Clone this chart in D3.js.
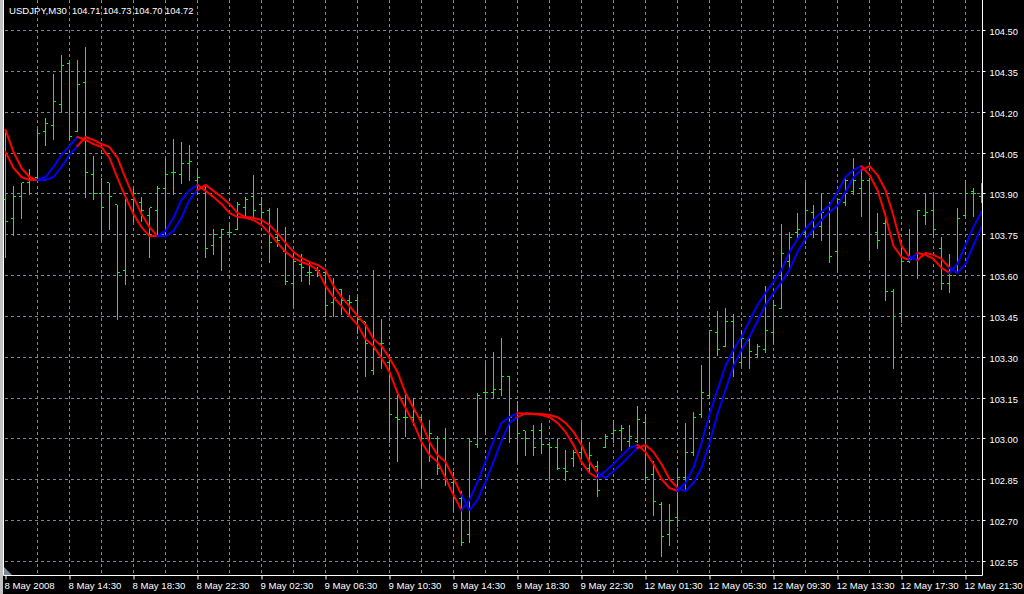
<!DOCTYPE html>
<html><head><meta charset="utf-8">
<script src="https://cdn.jsdelivr.net/npm/d3@7"></script>
<style>html,body{margin:0;padding:0;background:#000;overflow:hidden}</style>
</head><body>
<svg id="chart" width="1024" height="594"></svg>
<script>
// ---------- data ----------
const symbolTitle = "USDJPY,M30";
const quoteValues = ["104.71", "104.73", "104.70", "104.72"];
const timeLabels = ["8 May 2008","8 May 14:30","8 May 18:30","8 May 22:30","9 May 02:30","9 May 06:30",
  "9 May 10:30","9 May 14:30","9 May 18:30","9 May 22:30","12 May 01:30","12 May 05:30",
  "12 May 09:30","12 May 13:30","12 May 17:30","12 May 21:30"];
const priceTicks = [104.50,104.35,104.20,104.05,103.90,103.75,103.60,103.45,103.30,103.15,103.00,102.85,102.70,102.55];

const openP = [103.88,103.81,103.89,103.94,103.96,104.13,104.15,104.23,104.38,104.13,
 104.31,103.97,103.90,103.94,103.86,103.62,103.88,103.87,103.82,103.84,
 103.92,103.98,103.97,104.01,103.95,103.93,103.71,103.74,103.76,103.77,
 103.85,103.89,103.86,103.84,103.74,103.69,103.57,103.64,103.61,103.62,
 103.61,103.50,103.55,103.51,103.51,103.43,103.25,103.35,103.28,103.08,
 103.08,103.08,103.08,103.00,103.00,103.00,102.84,102.78,102.65,102.98,
 103.17,103.17,103.18,103.23,103.08,103.03,103.03,103.03,102.98,102.97,
 102.89,102.93,102.95,102.89,102.90,102.97,103.02,103.03,102.99,102.99,
 103.06,102.87,102.76,102.65,102.71,102.86,102.95,103.09,103.16,103.39,
 103.34,103.43,103.28,103.36,103.31,103.33,103.39,103.48,103.65,103.76,
 103.76,103.83,103.78,103.85,103.69,103.87,103.91,103.92,103.95,103.76,
 103.79,103.54,103.46,103.65,103.66,103.82,103.84,103.70,103.57,103.61,
 103.82,103.91,103.89];
const highP = [104.13,103.93,103.94,103.99,104.14,104.18,104.34,104.41,104.38,104.39,
 104.44,104.04,103.96,103.94,103.86,103.88,103.92,103.89,103.85,103.93,
 104.03,104.10,104.09,104.08,103.99,103.93,103.77,103.77,103.79,103.87,
 103.89,103.97,103.89,103.85,103.85,103.78,103.68,103.68,103.65,103.63,
 103.62,103.59,103.55,103.53,103.52,103.43,103.62,103.44,103.29,103.16,
 103.16,103.15,103.08,103.07,103.01,103.04,102.88,102.81,103.00,103.17,
 103.28,103.32,103.37,103.23,103.14,103.03,103.05,103.06,102.99,103.00,
 102.96,102.96,103.06,102.99,102.92,103.02,103.07,103.05,103.05,103.12,
 103.09,102.92,102.77,102.76,102.89,103.06,103.10,103.27,103.40,103.47,
 103.48,103.46,103.40,103.37,103.35,103.56,103.51,103.79,103.76,103.83,
 103.94,103.86,103.90,103.87,103.88,103.96,104.03,103.99,103.96,103.83,
 103.83,103.55,103.70,103.77,103.84,103.90,103.90,103.74,103.68,103.85,
 103.95,103.92,103.94];
const lowP = [103.67,103.75,103.81,103.90,103.95,104.08,104.10,104.20,104.10,104.13,
 103.89,103.88,103.73,103.77,103.44,103.57,103.80,103.80,103.67,103.75,
 103.75,103.90,103.94,103.95,103.90,103.67,103.68,103.62,103.74,103.77,
 103.81,103.81,103.80,103.65,103.71,103.57,103.49,103.58,103.57,103.60,
 103.45,103.45,103.46,103.46,103.39,103.23,103.24,103.26,102.99,102.92,
 103.01,103.05,102.83,102.92,102.87,102.83,102.74,102.61,102.62,102.97,
 103.03,103.15,103.16,102.99,102.92,102.94,102.94,102.95,102.85,102.89,
 102.85,102.90,102.94,102.88,102.79,102.97,102.99,102.96,102.97,102.99,
 102.84,102.72,102.57,102.61,102.68,102.81,102.94,103.08,103.15,103.31,
 103.34,103.23,103.27,103.26,103.30,103.32,103.35,103.48,103.63,103.74,
 103.72,103.74,103.73,103.65,103.62,103.86,103.90,103.82,103.67,103.70,
 103.51,103.26,103.43,103.65,103.59,103.79,103.74,103.55,103.54,103.61,
 103.82,103.82,103.87];
const closeP = [103.80,103.89,103.94,103.96,104.12,104.16,104.24,104.37,104.11,104.30,
 103.98,103.90,103.85,103.89,103.61,103.88,103.90,103.84,103.85,103.92,
 103.97,103.98,104.01,104.02,103.96,103.70,103.75,103.77,103.76,103.86,
 103.88,103.84,103.83,103.72,103.73,103.58,103.65,103.63,103.61,103.62,
 103.49,103.52,103.51,103.50,103.44,103.35,103.33,103.35,103.09,103.07,
 103.08,103.10,103.00,103.02,102.89,102.85,102.78,102.62,102.99,103.16,
 103.17,103.18,103.23,103.08,103.02,103.00,102.97,102.98,102.97,102.89,
 102.88,102.95,102.97,102.94,102.81,103.01,103.03,103.04,103.01,103.07,
 102.86,102.77,102.64,102.70,102.86,102.95,103.08,103.17,103.40,103.33,
 103.43,103.28,103.37,103.32,103.34,103.40,103.49,103.68,103.74,103.77,
 103.84,103.78,103.83,103.67,103.88,103.95,103.95,103.95,103.96,103.73,
 103.54,103.45,103.65,103.66,103.84,103.83,103.77,103.57,103.60,103.81,
 103.90,103.90,103.89];
// smoothed indicator (one value per bar plus one leading value)
const maValues = [104.135,104.054,103.995,103.962,103.951,103.951,103.962,103.999,104.043,104.076,
 104.109,104.098,104.083,104.072,104.032,103.958,103.889,103.826,103.778,103.745,
 103.745,103.764,103.812,103.878,103.914,103.933,103.911,103.889,103.863,103.830,
 103.815,103.812,103.804,103.786,103.756,103.720,103.687,103.665,103.650,103.639,
 103.621,103.562,103.521,103.488,103.452,103.419,103.367,103.341,103.297,103.246,
 103.169,103.114,103.059,102.989,102.941,102.916,102.857,102.794,102.739,102.776,
 102.842,102.916,102.993,103.059,103.080,103.094,103.093,103.092,103.088,103.080,
 103.059,103.026,102.978,102.916,102.875,102.857,102.882,102.908,102.938,102.967,
 102.978,102.952,102.908,102.853,102.820,102.809,102.838,102.894,102.985,103.092,
 103.180,103.268,103.327,103.375,103.433,103.492,103.536,103.577,103.621,103.687,
 103.734,103.771,103.804,103.834,103.856,103.907,103.962,103.988,104.002,103.969,
 103.914,103.819,103.709,103.668,103.657,103.683,103.676,103.661,103.628,103.610,
 103.643,103.712,103.778,103.834];

// ---------- drawing ----------
const W = 1024, H = 594;
const FONT = "'Liberation Sans', Arial, sans-serif";
const GRID = "#778899", BAR = "#00ff00", UP = "#0000ff", DOWN = "#ff0000";
const nBars = closeP.length;
const svg = d3.select("#chart");
svg.append("rect").attr("width", W).attr("height", H).attr("fill", "#000");

const x = d3.scaleLinear().domain([0, nBars - 1]).range([5.5, 5.5 + 8 * (nBars - 1)]);
const y = d3.scaleLinear().domain([priceTicks[0], priceTicks[priceTicks.length - 1]]).range([30.5, 561.5]);
const crisp = v => Math.round(v - 0.5) + 0.5;
const plotRight = 982.5, plotBottom = 575.5;

// grid
const grid = svg.append("g").attr("stroke", GRID).attr("stroke-dasharray", "3,3").attr("stroke-width", 1)
  .attr("shape-rendering", "crispEdges");
grid.selectAll("line.h").data(priceTicks).join("line").attr("class", "h")
  .attr("x1", 5).attr("x2", plotRight).attr("y1", d => crisp(y(d))).attr("y2", d => crisp(y(d)));
const vGrid = d3.range(4, nBars, 4);
grid.selectAll("line.v").data(vGrid).join("line").attr("class", "v")
  .attr("x1", d => x(d)).attr("x2", d => x(d)).attr("y1", 0).attr("y2", plotBottom);

// bars
const bars = svg.append("g").attr("stroke", BAR).attr("stroke-width", 1).attr("shape-rendering", "crispEdges");
const idx = d3.range(nBars);
bars.selectAll("line.hl").data(idx).join("line")
  .attr("x1", i => x(i)).attr("x2", i => x(i))
  .attr("y1", i => Math.round(y(highP[i]))).attr("y2", i => Math.round(y(lowP[i])) + 1);
bars.selectAll("line.o").data(idx).join("line")
  .attr("x1", i => x(i) - 2.5).attr("x2", i => x(i) - 0.5)
  .attr("y1", i => crisp(y(openP[i]))).attr("y2", i => crisp(y(openP[i])));
bars.selectAll("line.c").data(idx).join("line")
  .attr("x1", i => x(i) + 0.5).attr("x2", i => x(i) + 2.5)
  .attr("y1", i => crisp(y(closeP[i]))).attr("y2", i => crisp(y(closeP[i])));

// indicator: two lines (current and leading value), coloured by direction
const segColor = [];
let prev = DOWN;
for (let i = 1; i < nBars; i++) {
  const a = maValues[i], b = maValues[i + 1];
  const c = b > a ? UP : (b < a ? DOWN : prev);
  segColor[i] = c; prev = c;
}
function runs(offset) {
  const out = [];
  let cur = null;
  for (let i = 1; i < nBars; i++) {
    const p0 = [x(i - 1), y(maValues[i - 1 + offset])], p1 = [x(i), y(maValues[i + offset])];
    if (!cur || cur.color !== segColor[i]) { cur = { color: segColor[i], pts: [p0] }; out.push(cur); }
    cur.pts.push(p1);
  }
  return out;
}
const lineGen = d3.line();
const ind = svg.append("g").attr("fill", "none").attr("stroke-width", 2)
  .attr("stroke-linejoin", "round").attr("stroke-linecap", "square");
[0, 1].forEach(off => {
  ind.selectAll(null).data(runs(off)).join("path")
    .attr("d", d => lineGen(d.pts)).attr("stroke", d => d.color);
});

// frame
svg.append("rect").attr("x", 0).attr("y", 0).attr("width", 3).attr("height", H).attr("fill", "#c0c0c0");
svg.append("rect").attr("x", plotRight + 0.5).attr("y", 0).attr("width", W - plotRight).attr("height", H).attr("fill", "#000");
svg.append("rect").attr("x", 3).attr("y", plotBottom + 0.5).attr("width", W).attr("height", H - plotBottom).attr("fill", "#000");
const frame = svg.append("g").attr("stroke", "#fff").attr("stroke-width", 1);
frame.append("line").attr("x1", 3.5).attr("x2", 3.5).attr("y1", 0).attr("y2", plotBottom);
frame.append("line").attr("x1", plotRight).attr("x2", plotRight).attr("y1", 0).attr("y2", plotBottom);
frame.append("line").attr("x1", 3.5).attr("x2", plotRight).attr("y1", plotBottom).attr("y2", plotBottom);
svg.append("path").attr("d", "M4,567 L4,575 L12,575 Z").attr("fill", GRID);

// price axis
const yAxis = d3.axisRight(y).tickValues(priceTicks).tickFormat(d3.format(".2f"))
  .tickSize(3).tickPadding(4).tickSizeOuter(0);
const ya = svg.append("g").attr("transform", `translate(${plotRight},0)`).call(yAxis);
ya.select(".domain").remove();
ya.selectAll(".tick").attr("transform", d => `translate(0,${crisp(y(d))})`);
ya.selectAll(".tick line").attr("stroke", "#fff");
ya.selectAll(".tick text").attr("fill", "#fff").attr("dy", "0.45em")
  .style("font-family", FONT).style("font-size", "9.3px");

// time axis
const labelBars = timeLabels.map((_, i) => i * 8);
const xAxis = d3.axisBottom(x).tickValues(labelBars).tickFormat((d, i) => timeLabels[i])
  .tickSize(4).tickPadding(3).tickSizeOuter(0);
const xa = svg.append("g").attr("transform", `translate(0,${plotBottom})`).call(xAxis);
xa.select(".domain").remove();
xa.selectAll(".tick line").attr("stroke", "#fff");
xa.selectAll(".tick text").attr("fill", "#fff").attr("text-anchor", "start").attr("x", -1.5)
  .style("font-family", FONT).style("font-size", "9.6px");

// title
const title = svg.append("g").attr("fill", "#fff").style("font-family", FONT);
title.append("text").attr("x", 9).attr("y", 14).style("font-size", "9.6px").text(symbolTitle);
title.selectAll("text.q").data(quoteValues).join("text").attr("class", "q")
  .attr("x", (d, i) => 72 + 31 * i).attr("y", 14).style("font-size", "9.3px").text(d => d);
</script>
</body></html>
